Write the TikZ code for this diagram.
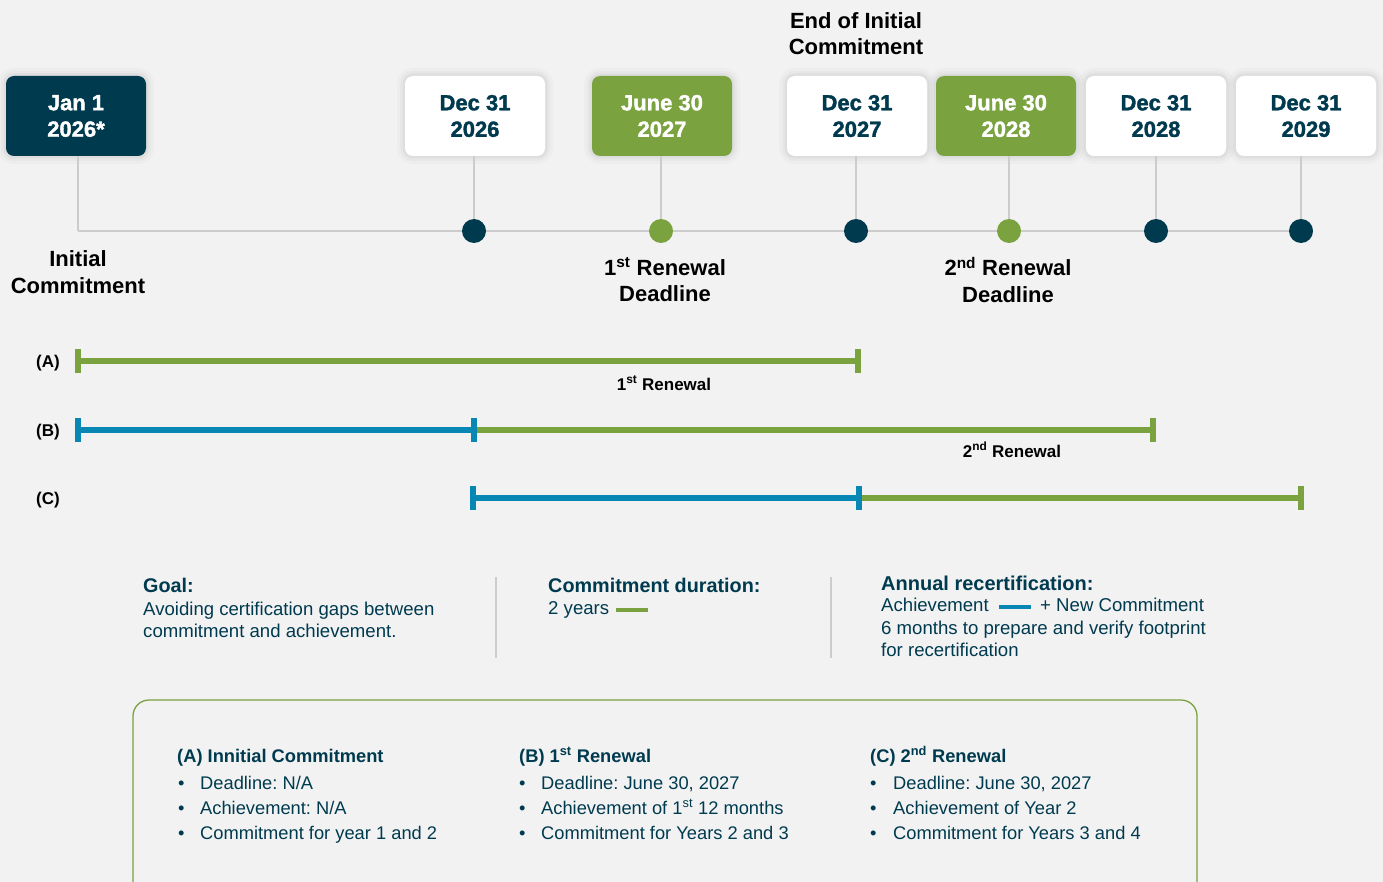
\documentclass[tikz,border=0pt]{standalone}
\usepackage{fontspec}
\setmainfont{Liberation Sans}
\newfontfamily\heavyfont{Liberation Sans}[BoldFeatures={FakeBold=1.6}]
\frenchspacing
\usetikzlibrary{calc}
\definecolor{navy}{RGB}{0,58,79}
\definecolor{leaf}{RGB}{122,162,63}
\definecolor{sky}{RGB}{8,135,181}
\definecolor{bgc}{RGB}{242,242,242}
\definecolor{rulec}{RGB}{204,204,204}
\begin{document}
\begin{tikzpicture}[x=1pt,y=-1pt,
  halo/.style={preaction={draw=black,draw opacity=0.02,line width=16pt},
               preaction={draw=black,draw opacity=0.025,line width=10pt},
               preaction={draw=black,draw opacity=0.035,line width=5pt}},
  datebox/.style={rounded corners=8pt, minimum width=140pt, minimum height=80pt, inner sep=0pt,
    align=center, font=\fontsize{22}{26.5}\selectfont\heavyfont\bfseries, halo},
  whitebox/.style={datebox, fill=white, text=navy},
  navybox/.style={datebox, fill=navy, text=white},
  greenbox/.style={datebox, fill=leaf, text=white},
  dotn/.style={circle, minimum size=24pt, inner sep=0pt, fill=navy},
  dotg/.style={dotn, fill=leaf},
  stem/.style={draw=rulec, line width=1.3pt},
  axis/.style={draw=rulec, line width=2pt},
  biglabel/.style={align=center, font=\fontsize{22}{26.5}\selectfont\bfseries, text=black, inner sep=0pt},
  rowlabel/.style={anchor=base, font=\fontsize{17}{20}\selectfont\bfseries, text=black, inner sep=0pt},
  gbar/.style={draw=leaf, line width=5.5pt},
  bbar/.style={draw=sky, line width=5.5pt},
  gtick/.style={draw=leaf, line width=5.5pt},
  btick/.style={draw=sky, line width=5.5pt},
  head/.style={anchor=base west, inner sep=0pt, text=navy, font=\fontsize{19.8}{22}\selectfont\bfseries},
  body/.style={anchor=base west, inner sep=0pt, text=navy, font=\fontsize{18.6}{22}\selectfont},
  divider/.style={draw=rulec, line width=1.3pt},
  bul/.style={anchor=base west, inner sep=0pt, text=navy, font=\fontsize{18.3}{22}\selectfont},
  colhead/.style={anchor=base west, inner sep=0pt, text=navy, font=\fontsize{18.3}{22}\selectfont\bfseries},
]
\fill[bgc] (0,0) rectangle (1383,882);
\clip (0,0) rectangle (1383,882);

% date boxes
\node[navybox]  (b0) at (76,116)   {Jan 1\\2026*};
\node[whitebox] (b1) at (475,116)  {Dec 31\\2026};
\node[greenbox] (b2) at (662,116)  {June 30\\2027};
\node[whitebox] (b3) at (857,116)  {Dec 31\\2027};
\node[greenbox] (b4) at (1006,116) {June 30\\2028};
\node[whitebox] (b5) at (1156,116) {Dec 31\\2028};
\node[whitebox] (b6) at (1306,116) {Dec 31\\2029};

% timeline dots
\coordinate (t0) at (78,231);
\node[dotn] (d1) at (474,231) {};
\node[dotg] (d2) at (661,231) {};
\node[dotn] (d3) at (856,231) {};
\node[dotg] (d4) at (1009,231) {};
\node[dotn] (d5) at (1156,231) {};
\node[dotn] (d6) at (1301,231) {};

\draw[stem] (b0.south -| t0) -- (t0);
\draw[axis] (t0) -- (d1);
\draw[axis] (d1) -- (d2);
\draw[axis] (d2) -- (d3);
\draw[axis] (d3) -- (d4);
\draw[axis] (d4) -- (d5);
\draw[axis] (d5) -- (d6);
\draw[stem] (b1.south -| d1) -- (d1);
\draw[stem] (b2.south -| d2) -- (d2);
\draw[stem] (b3.south -| d3) -- (d3);
\draw[stem] (b4.south -| d4) -- (d4);
\draw[stem] (b5.south -| d5) -- (d5);
\draw[stem] (b6.south -| d6) -- (d6);

% big labels
\node[biglabel] (lend) at (856,33.5) {End of Initial\\Commitment};
\node[biglabel] (linit) at (78,272) {Initial\\Commitment};
\node[biglabel] (lr1) at (665,280) {1\textsuperscript{st} Renewal\\Deadline};
\node[biglabel] (lr2) at (1008,280) {2\textsuperscript{nd} Renewal\\Deadline};

% bars
\node[rowlabel] (la) at (48,367) {(A)};
\node[rowlabel] (lb) at (48,436) {(B)};
\node[rowlabel] (lc) at (48,504) {(C)};

\coordinate (a0) at (78,361);  \coordinate (a1) at (858,361);
\coordinate (bb0) at (78,430); \coordinate (bb1) at (474,430); \coordinate (bb2) at (1153,430);
\coordinate (c0) at (473,498); \coordinate (c1) at (859,498); \coordinate (c2) at (1301,498);

\draw[gbar] (a0) -- (a1);
\draw[gtick] ([yshift=12pt]a0) -- ([yshift=-12pt]a0);
\draw[gtick] ([yshift=12pt]a1) -- ([yshift=-12pt]a1);

\draw[bbar] (bb0) -- (bb1);
\draw[gbar] (bb1) -- (bb2);
\draw[btick] ([yshift=12pt]bb0) -- ([yshift=-12pt]bb0);
\draw[btick] ([yshift=12pt]bb1) -- ([yshift=-12pt]bb1);
\draw[gtick] ([yshift=12pt]bb2) -- ([yshift=-12pt]bb2);

\draw[bbar] (c0) -- (c1);
\draw[gbar] (c1) -- (c2);
\draw[btick] ([yshift=12pt]c0) -- ([yshift=-12pt]c0);
\draw[btick] ([yshift=12pt]c1) -- ([yshift=-12pt]c1);
\draw[gtick] ([yshift=12pt]c2) -- ([yshift=-12pt]c2);

\node[rowlabel] (ra) at (664,390) {1\textsuperscript{st} Renewal};
\node[rowlabel] (rb) at (1012,457) {2\textsuperscript{nd} Renewal};

% legend block
\node[head] (goal) at (143,592.7) {Goal:};
\node[body] (goal1) at (143,615) {Avoiding certification gaps between};
\node[body] (goal2) at (143,637) {commitment and achievement.};

\draw[divider] (496,577) -- (496,658);

\node[head] (dur) at (548,592.7) {Commitment duration:};
\node[body] (dur1) at (548,614) {2 years};
\coordinate (sw0) at (616,610); \coordinate (sw1) at (648,610);
\draw[draw=leaf, line width=4.5pt] (sw0) -- (sw1);

\draw[divider] (831,577) -- (831,658);

\node[head, font=\fontsize{20}{22}\selectfont\bfseries] (ann) at (881,590) {Annual recertification:};
\node[body] (ann1) at (881,611.7) {Achievement};
\coordinate (sb0) at (999,607); \coordinate (sb1) at (1031,607);
\draw[draw=sky, line width=4.5pt] (sb0) -- (sb1);
\node[body] (ann2) at (1040,611.7) {+ New Commitment};
\node[body] (ann3) at (881,634) {6 months to prepare and verify footprint};
\node[body] (ann4) at (881,656) {for recertification};

% bottom box
\draw[draw=leaf, line width=1.3pt, rounded corners=16pt] (133,700) rectangle (1197,930);

\node[colhead] (ha) at (177,762) {(A) Innitial Commitment};
\node[bul] (a1t) at (178,789) {\makebox[22pt][l]{•}Deadline: N/A};
\node[bul] (a2t) at (178,814) {\makebox[22pt][l]{•}Achievement: N/A};
\node[bul] (a3t) at (178,839) {\makebox[22pt][l]{•}Commitment for year 1 and 2};

\node[colhead] (hb) at (519,762) {(B) 1\textsuperscript{st} Renewal};
\node[bul] (b1t) at (519,789) {\makebox[22pt][l]{•}Deadline: June 30, 2027};
\node[bul] (b2t) at (519,814) {\makebox[22pt][l]{•}Achievement of 1\textsuperscript{st} 12 months};
\node[bul] (b3t) at (519,839) {\makebox[22pt][l]{•}Commitment for Years 2 and 3};

\node[colhead] (hc) at (870,762) {(C) 2\textsuperscript{nd} Renewal};
\node[bul] (c1t) at (870,789) {\makebox[23pt][l]{•}Deadline: June 30, 2027};
\node[bul] (c2t) at (870,814) {\makebox[23pt][l]{•}Achievement of Year 2};
\node[bul] (c3t) at (870,839) {\makebox[23pt][l]{•}Commitment for Years 3 and 4};
\end{tikzpicture}
\end{document}
